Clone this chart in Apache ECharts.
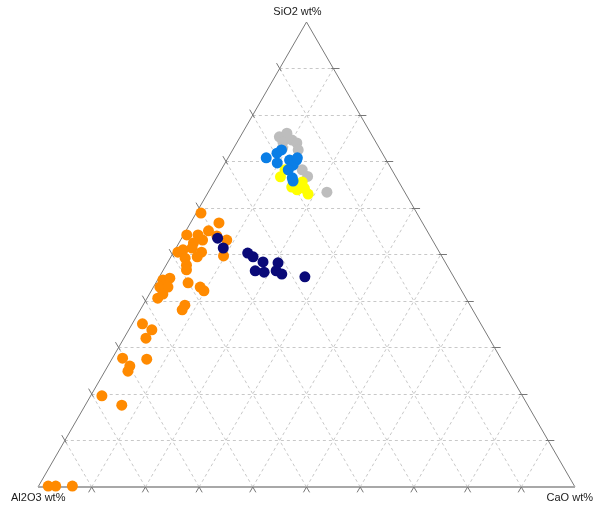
<!DOCTYPE html>
<html><head><meta charset="utf-8">
<script src="https://cdn.jsdelivr.net/npm/echarts@6/dist/echarts.min.js"></script>
<style>html,body{margin:0;padding:0;background:#fff}#c{width:595px;height:508px}</style>
</head><body><div id="c"></div>
<script>
// Axis labels (apex, left, right)
const axisTitles = ['SiO2 wt%', 'Al2O3 wt%', 'CaO wt%'];
const gridSteps = [10, 20, 30, 40, 50, 60, 70, 80, 90];

// Each sample: [SiO2, Al2O3, CaO] wt%
const orangeData = [
 [58.9,40.2,0.9],[56.8,37.9,5.3],[54.2,45.2,0.6],[54.2,43.1,2.7],[55.1,40.7,4.2],[54.0,39.7,6.3],
 [53.1,38.3,8.6],[52.5,44.8,2.7],[53.1,42.8,4.1],[50.5,48.7,0.8],[51.0,47.5,1.5],[51.4,45.6,3.0],
 [50.5,44.3,5.2],[49.2,48.0,2.8],[49.5,45.6,4.9],[49.7,40.6,9.7],[47.7,48.5,3.8],[46.7,49.0,4.3],
 [44.5,54.5,1.0],[44.9,53.0,2.1],[43.0,55.8,1.2],[43.0,54.3,2.7],[43.9,50.1,6.0],[43.0,48.3,8.7],
 [42.2,48.0,9.8],[40.6,57.4,2.0],[41.5,56.0,2.5],[39.1,53.1,7.8],[38.1,54.1,7.8],[35.1,63.0,1.9],
 [33.8,61.9,4.3],[32.0,63.9,4.1],[27.7,70.4,1.9],[26.0,69.9,4.1],[24.9,70.8,4.3],[27.5,66.0,6.5],
 [19.6,78.3,2.1],[17.6,75.6,6.8],[0.2,98.0,1.8],[0.2,96.6,3.2],[0.2,93.5,6.3]
];
const navyData = [
 [53.5,39.8,6.7],[51.4,39.8,8.8],[50.3,35.8,13.9],[49.5,35.2,15.3],[48.4,33.9,17.7],[48.2,31.2,20.6],
 [46.5,36.3,17.2],[46.2,34.8,19.0],[46.5,32.4,21.1],[45.8,31.7,22.5],[45.2,27.7,27.1]
];
const grayData = [
 [75.3,17.4,7.3],[76.1,15.6,8.3],[74.2,17.3,8.5],[74.6,15.4,10.0],[74.0,14.8,11.2],[72.5,15.3,12.2],
 [72.9,18.0,9.1],[68.2,16.7,15.1],[66.8,16.4,16.8],[63.4,14.5,22.1]
];
const yellowData = [
 [66.7,21.5,11.8],[68.2,19.9,11.9],[64.5,20.5,15.0],[63.9,19.8,16.3],[65.6,18.0,16.4],[64.3,18.3,17.5],
 [63.0,18.2,18.8],[65.0,19.1,15.9]
];
const blueData = [
 [70.8,22.1,7.1],[71.8,19.6,8.6],[72.5,18.4,9.1],[69.7,20.6,9.7],[70.3,18.0,11.7],[70.3,16.7,13.0],
 [69.2,17.9,12.9],[68.2,19.3,12.5],[66.5,19.4,14.1],[65.8,19.6,14.6],[70.8,16.3,12.9]
];

const H = Math.sqrt(3) / 2;
function toXY(si, al, ca) {
  const s = si + al + ca;
  si = si / s * 100; ca = ca / s * 100;
  return [ca + si / 2, si * H];
}
const conv = arr => arr.map(p => toXY(p[0], p[1], p[2]));

// grid lines
const gridLines = [];
gridSteps.forEach(k => {
  gridLines.push({coords: [toXY(k, 100 - k, 0), toXY(k, 0, 100 - k)]});   // SiO2 const
  gridLines.push({coords: [toXY(0, 100 - k, k), toXY(100 - k, 0, k)]});   // CaO const
  gridLines.push({coords: [toXY(0, k, 100 - k), toXY(100 - k, k, 0)]});   // Al2O3 const
});
const A = toXY(100, 0, 0), L = toXY(0, 100, 0), R = toXY(0, 0, 100);
const sideLines = [{coords: [L, A]}, {coords: [A, R]}];
const bottomLine = [{coords: [L, R]}];
const tl = 1.15;
const ticks = [];
gridSteps.forEach(k => {
  const p = toXY(k, 100 - k, 0);
  ticks.push({coords: [[p[0] + 0.3, p[1] - 0.5], [p[0] - 0.5 * tl, p[1] + H * tl]]});
  const q = toXY(k, 0, 100 - k);
  ticks.push({coords: [[q[0] - 0.4, q[1]], [q[0] + tl, q[1]]]});
  const b = toXY(0, 100 - k, k);
  ticks.push({coords: [b, [b[0] - 0.5 * tl, b[1] - H * tl]]});
  ticks.push({coords: [b, [b[0] + 0.5 * tl, b[1] - H * tl]]});
});

const chart = echarts.init(document.getElementById('c'), null, {renderer: 'canvas'});
const sym = (name, data, color) => ({
  name, type: 'scatter', data: conv(data), symbol: 'circle', symbolSize: 11, clip: false,
  itemStyle: {color: color, opacity: 1}, silent: true, animation: false
});
const lineSeries = (data, style) => ({
  type: 'lines', coordinateSystem: 'cartesian2d', data: data, silent: true, clip: false,
  lineStyle: Object.assign({opacity: 1}, style)
});
chart.setOption({
  animation: false,
  backgroundColor: '#fff',
  grid: {left: 38, top: 22, width: 537, height: 465},
  xAxis: {type: 'value', min: 0, max: 100, show: false},
  yAxis: {type: 'value', min: 0, max: 100 * H, show: false},
  graphic: [
    {type: 'text', left: 'center', top: 6, style: {text: axisTitles[0], font: '11px "Liberation Sans", Arial', fill: '#1a1a1a'}},
    {type: 'text', left: 11, top: 492, style: {text: axisTitles[1], font: '11px "Liberation Sans", Arial', fill: '#1a1a1a'}},
    {type: 'text', right: 2, top: 492, style: {text: axisTitles[2], font: '11px "Liberation Sans", Arial', fill: '#1a1a1a'}}
  ],
  series: [
    lineSeries(gridLines, {color: '#c8c8c8', width: 1, type: [3, 3]}),
    lineSeries(sideLines, {color: '#7a7a7a', width: 1}),
    lineSeries(bottomLine, {color: '#a8a8a8', width: 2}),
    lineSeries(ticks, {color: '#777', width: 1}),
    sym('orange', orangeData, '#ff8a00'),
    sym('navy', navyData, '#0a0a78'),
    sym('gray', grayData, '#bdbdbd'),
    sym('yellow', yellowData, '#ffff00'),
    sym('blue', blueData, '#0a7ee6')
  ]
});
</script></body></html>
